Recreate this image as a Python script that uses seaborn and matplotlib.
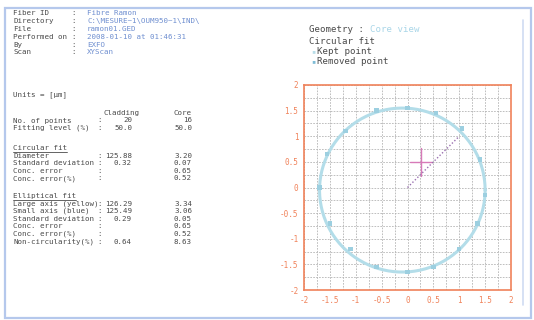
import numpy as np
import matplotlib
matplotlib.use("Agg")
import matplotlib.pyplot as plt
import seaborn as sns
from matplotlib.lines import Line2D
from matplotlib.patches import Rectangle

header_labels = ['Fiber ID', 'Directory', 'File', 'Performed on', 'By', 'Scan']
header_values = ['Fibre Ramon', 'C:\\MESURE~1\\OUM950~1\\IND\\', 'ramon01.GED',
                 '2008-01-10 at 01:46:31', 'EXFO', 'XYScan']

table_labels = ['No. of points', 'Fitting level (%)']
table_cladding = ['20', '50.0']
table_core = ['16', '50.0']

circ_labels = ['Diameter', 'Standard deviation', 'Conc. error', 'Conc. error(%)']
circ_cladding = ['125.88', '0.32', '', '']
circ_core = ['3.20', '0.07', '0.65', '0.52']

ell_labels = ['Large axis (yellow)', 'Small axis (blue)', 'Standard deviation',
              'Conc. error', 'Conc. error(%)', 'Non-circularity(%)']
ell_cladding = ['126.29', '125.49', '0.29', '', '', '0.64']
ell_core = ['3.34', '3.06', '0.05', '0.65', '0.52', '8.63']

# core fit (um) and measured edge points
fit_center = (-0.1, -0.05)
fit_radius = 1.6
kept_x = [0.0, 0.55, 1.05, 1.4, 1.5, 1.35, 1.0, 0.5, 0.0, -0.6, -1.1, -1.5, -1.7, -1.55, -1.2, -0.6]
kept_y = [1.55, 1.45, 1.15, 0.55, -0.15, -0.7, -1.2, -1.55, -1.65, -1.55, -1.2, -0.7, 0.0, 0.65, 1.1, 1.5]
cross_x = 0.26
cross_y = 0.5
offset_x = [0.0, 1.0]
offset_y = [0.0, 1.0]

W, H = 534, 320
lab_c = '#4a4a4a'
val_c = '#6f8fd0'
orange = '#f0825a'

sns.set_style('white')
plt.rcParams['font.family'] = ['DejaVu Sans Mono']

fig = plt.figure(figsize=(W / 100, H / 100), dpi=100)


def fx(x):
    return x / W


def fy(y):
    return 1 - y / H


def txt(x, y, s, c=lab_c, size=5.4, ha='left'):
    fig.text(fx(x), fy(y), s, color=c, fontsize=size, ha=ha, va='center')


# frame
fig.add_artist(Rectangle((fx(5), fy(318)), fx(526), 310 / H, transform=fig.transFigure,
                         fill=False, edgecolor='#b5c8ec', lw=1.6))
fig.add_artist(Line2D([fx(523), fx(523)], [fy(20), fy(305)], transform=fig.transFigure,
                      color='#d0dcf2', lw=1.2))

# header block
for i, (l, v) in enumerate(zip(header_labels, header_values)):
    y = 13 + i * 7.9
    txt(13, y, l)
    txt(71, y, ':')
    txt(87, y, v, c=val_c)

txt(13, 95, 'Units = [\u03bcm]')
txt(140, 113, 'Cladding', ha='right')
txt(192, 113, 'Core', ha='right')
for i, l in enumerate(table_labels):
    y = 120.5 + i * 7.6
    txt(13, y, l)
    txt(97, y, ':')
    txt(132, y, table_cladding[i], ha='right')
    txt(192, y, table_core[i], ha='right')


def section(title, y0, labels, clad, core):
    txt(13, y0, title)
    fig.add_artist(Line2D([fx(13), fx(13 + len(title) * 4.5)], [fy(y0 + 3.6)] * 2,
                          transform=fig.transFigure, color=lab_c, lw=0.6))
    for i, l in enumerate(labels):
        y = y0 + 7.6 * (i + 1)
        txt(13, y, l)
        txt(97, y, ':')
        txt(132, y, clad[i], ha='right')
        txt(192, y, core[i], ha='right')


section('Circular fit', 148, circ_labels, circ_cladding, circ_core)
section('Elliptical fit', 196, ell_labels, ell_cladding, ell_core)

# right-hand legend text
txt(309, 30, 'Geometry :', size=6.6)
txt(370, 30, 'Core view', c='#a9d6e8', size=6.6)
txt(309, 41, 'Circular fit', size=6.6)
fig.text(fx(311), fy(51.5), '\u25aa', color='#b8dde8', fontsize=5, va='center')
txt(317, 51.5, 'Kept point', size=6.6)
fig.text(fx(311), fy(61), '\u25aa', color='#7fbcd6', fontsize=5, va='center')
txt(317, 61, 'Removed point', size=6.6)

# plot
ax = fig.add_axes([fx(304), fy(290), 207 / W, 205 / H])
t = np.linspace(0, 2 * np.pi, 200)
ax.plot(fit_center[0] + fit_radius * np.cos(t), fit_center[1] + fit_radius * np.sin(t),
        color='#b3dde9', lw=2.2, zorder=3)
sns.scatterplot(x=kept_x, y=kept_y, ax=ax, color='#9ccfe0', s=10, marker='s',
                edgecolor='none', zorder=4)
ax.plot([cross_x - 0.22, cross_x + 0.22], [cross_y, cross_y], color='#d77ab8', lw=1.0, zorder=5)
ax.plot([cross_x, cross_x], [cross_y - 0.27, cross_y + 0.27], color='#d77ab8', lw=1.0, zorder=5)
ax.plot(offset_x, offset_y, color='#9a6fb0', lw=1.0, ls=(0, (1, 1.5)), zorder=5)

ax.set_xlim(-2, 2)
ax.set_ylim(-2, 2)
ax.set_xticks(np.arange(-2, 2.01, 0.5))
ax.set_yticks(np.arange(-2, 2.01, 0.5))
ax.set_xticks(np.arange(-2, 2.01, 0.25), minor=True)
ax.set_yticks(np.arange(-2, 2.01, 0.25), minor=True)
ax.set_xticklabels(['-2', '-1.5', '-1', '-0.5', '0', '0.5', '1', '1.5', '2'])
ax.set_yticklabels(['-2', '-1.5', '-1', '-0.5', '0', '0.5', '1', '1.5', '2'])
ax.grid(which='both', color='#b4b4b4', ls=(0, (2, 1.5)), lw=0.6)
ax.tick_params(which='both', direction='inout', colors=orange, labelcolor=orange,
               length=4, width=0.8, labelsize=5.5, pad=2)
for s in ax.spines.values():
    s.set_color(orange)
    s.set_linewidth(1.2)

fig.savefig('out.png', dpi=100, facecolor='white')
